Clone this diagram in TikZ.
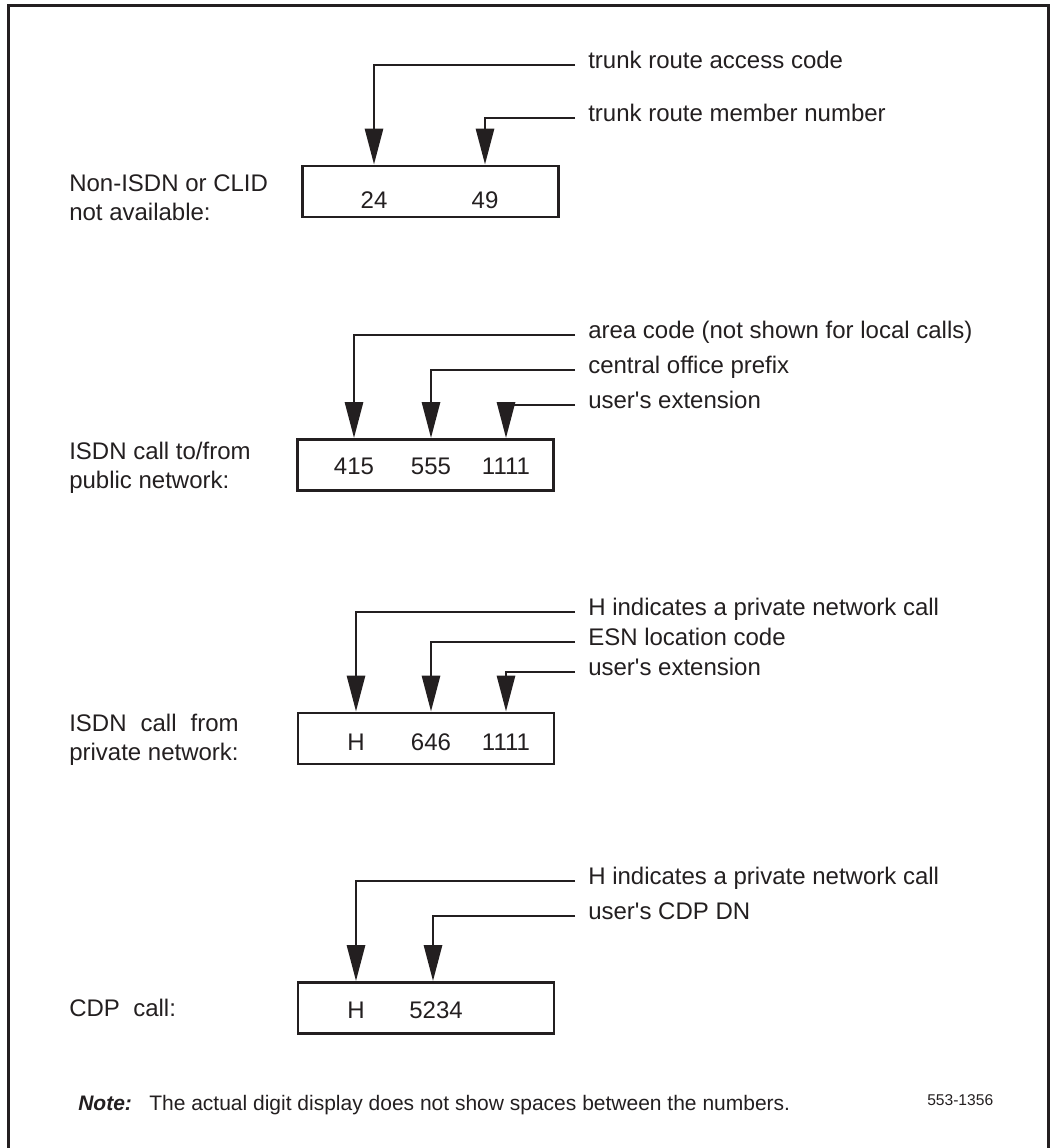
\documentclass[tikz,border=0pt]{standalone}
\usepackage{fontspec}
\setmainfont{Liberation Sans}
\usepackage{calc}
\usetikzlibrary{arrows.meta,positioning}
\definecolor{ink}{RGB}{35,31,32}
\tikzset{
    % Digit display boxes
    displaybox/.style={
        rectangle,
        draw=ink,
        line width=1.9pt,
        minimum width=192pt,
        minimum height=38.5pt,
        inner sep=0pt
    },
    digit/.style={
        inner sep=0pt,
        text=ink,
        font=\fontsize{18}{21.75}\selectfont
    },
    % Labels
    calllabel/.style={
        anchor=west,
        align=left,
        inner sep=0pt,
        text=ink,
        font=\fontsize{18}{21.75}\selectfont
    },
    fieldlabel/.style={
        anchor=mid west,
        inner xsep=9.75pt,
        inner ysep=0pt,
        text=ink,
        font=\fontsize{18}{21.75}\selectfont
    },
    notetext/.style={
        anchor=base west,
        inner sep=0pt,
        text=ink,
        font=\fontsize{15.75}{19}\selectfont
    },
    figid/.style={
        anchor=base west,
        inner sep=0pt,
        text=ink,
        font=\fontsize{11.7}{14}\selectfont
    },
    % Arrows
    pointer/.style={
        -{Triangle[length=27pt,width=13.5pt]},
        line width=2.2pt,
        draw=ink
    },
    frame/.style={
        line width=2pt,
        draw=ink
    }
}

\begin{document}
\begin{tikzpicture}[x=0.75pt, y=-0.75pt]

    \useasboundingbox (0,0) rectangle (1054,1148);

    % Frame
    \draw[frame] (8.5,1150) |- (1048.5,5.5) -- (1048.5,1150);

    % Non-ISDN or CLID not available
    \node[displaybox] (box1) at (430.5,191.5) {};
    \node[digit] (d24) at (374,200) {24};
    \node[digit] (d49) at (485,200) {49};
    \node[calllabel] (call1) at (69,197.5) {Non-ISDN or CLID\\not available:};
    \node[fieldlabel] (f11) at (575,65) {trunk route access code};
    \node[fieldlabel] (f12) at (575,118) {trunk route member number};
    \draw[pointer] (f11.mid west) -| (d24 |- box1.north);
    \draw[pointer] (f12.mid west) -| (d49 |- box1.north);

    % ISDN call to/from public network
    \node[displaybox] (box2) at (425.5,465) {};
    \node[digit] (d415) at (354,466) {415};
    \node[digit] (d555) at (431,466) {555};
    \node[digit] (d1111a) at (506,466) {1111};
    \node[calllabel] (call2) at (69,468) {ISDN call to/from\\public network:};
    \node[fieldlabel] (f21) at (575,335) {area code (not shown for local calls)};
    \node[fieldlabel] (f22) at (575,370) {central office prefix};
    \node[fieldlabel] (f23) at (575,405) {user\textquotesingle s extension};
    \draw[pointer] (f21.mid west) -| (d415 |- box2.north);
    \draw[pointer] (f22.mid west) -| (d555 |- box2.north);
    \draw[pointer] (f23.mid west) -| (d1111a |- box2.north);

    % ISDN call from private network
    \node[displaybox] (box3) at (426,738.5) {};
    \node[digit] (dH) at (356,742) {H};
    \node[digit] (d646) at (431,742) {646};
    \node[digit] (d1111b) at (506,742) {1111};
    \node[calllabel] (call3) at (69,740) {\makebox[\widthof{private network:}][s]{ISDN call from}\\private network:};
    \node[fieldlabel] (f31) at (575,612) {H indicates a private network call};
    \node[fieldlabel] (f32) at (575,642) {ESN location code};
    \node[fieldlabel] (f33) at (575,672) {user\textquotesingle s extension};
    \draw[pointer] (f31.mid west) -| (dH |- box3.north);
    \draw[pointer] (f32.mid west) -| (d646 |- box3.north);
    \draw[pointer] (f33.mid west) -| (d1111b |- box3.north);

    % CDP call
    \node[displaybox] (box4) at (426,1008) {};
    \node[digit] (dHcdp) at (356,1010) {H};
    \node[digit] (d5234) at (436,1010) {5234};
    \node[calllabel] (call4) at (69,1008) {CDP\ \ call:};
    \node[fieldlabel] (f41) at (575,881) {H indicates a private network call};
    \node[fieldlabel] (f42) at (575,916) {user\textquotesingle s CDP DN};
    \draw[pointer] (f41.mid west) -| (dHcdp |- box4.north);
    \draw[pointer] (f42.mid west) -| ([xshift=-2.25pt]d5234.center |- box4.north);

    % Note and figure number
    \node[notetext] (note) at (78,1110.5) {\textbf{\textit{Note:}}\hspace{13pt}The actual digit display does not show spaces between the numbers.};
    \node[figid] (figno) at (927,1105.5) {553-1356};

\end{tikzpicture}
\end{document}
